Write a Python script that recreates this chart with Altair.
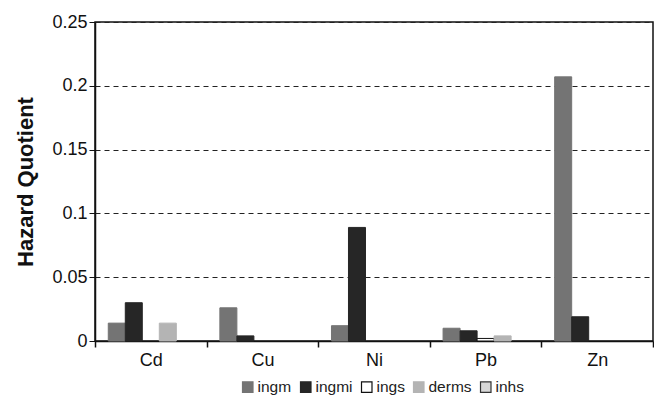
import altair as alt
import pandas as pd

metals = ["Cd", "Cu", "Ni", "Pb", "Zn"]
series = ["ingm", "ingmi", "ings", "derms", "inhs"]
ingm = [0.014, 0.026, 0.012, 0.010, 0.207]
ingmi = [0.030, 0.004, 0.089, 0.008, 0.019]
ings = [0.0, 0.0, 0.0, 0.002, 0.0]
derms = [0.014, 0.0, 0.0, 0.004, 0.0]
inhs = [0.0, 0.0, 0.0, 0.0, 0.0]

fills = ["#747474", "#262626", "#ffffff", "#b4b4b4", "#d8d8d8"]
strokes = ["#747474", "#262626", "#111111", "#b4b4b4", "#333333"]

rows = []
for s, vals in zip(series, [ingm, ingmi, ings, derms, inhs]):
    for m, v in zip(metals, vals):
        rows.append({"metal": m, "series": s, "value": v})
df = pd.DataFrame(rows)

font = "Liberation Sans"

chart = alt.Chart(df).transform_filter(
    alt.datum.value > 0
).mark_bar(strokeWidth=1).encode(
    x=alt.X("metal:N", sort=metals, title=None,
            scale=alt.Scale(domain=metals, paddingInner=0, paddingOuter=0),
            axis=alt.Axis(labelAngle=0, labelFontSize=18, labelColor="#111",
                          domainColor="#111", domainWidth=1.5, tickColor="#111",
                          tickWidth=1.5, tickSize=6, tickBand="extent",
                          labelPadding=4, labelFont=font)),
    xOffset=alt.XOffset("series:N", sort=series,
                        scale=alt.Scale(domain=series, paddingInner=0, paddingOuter=0.78)),
    y=alt.Y("value:Q", title="Hazard Quotient",
            scale=alt.Scale(domain=[0, 0.25]),
            axis=alt.Axis(values=[0, 0.05, 0.1, 0.15, 0.2, 0.25], format="~g",
                          labelFontSize=18, labelColor="#111", labelFont=font,
                          titleFontSize=22, titleFontWeight="bold", titleFont=font,
                          titleColor="#111", titlePadding=14,
                          domainColor="#111", domainWidth=1.5, tickColor="#111",
                          tickWidth=1, tickSize=6,
                          grid=True, gridColor="#222", gridDash=[5, 4], gridWidth=1.2)),
    fill=alt.Fill("series:N", sort=series, title=None,
                  scale=alt.Scale(domain=series, range=fills)),
    stroke=alt.Stroke("series:N", sort=series, title=None,
                      scale=alt.Scale(domain=series, range=strokes)),
).properties(
    width=558, height=319,
    padding={"left": 6, "right": 0, "top": 5, "bottom": 0},
).configure_view(
    stroke="#111", strokeWidth=1.5
).configure_legend(
    orient="none", legendX=145, legendY=357,
    direction="horizontal", symbolType="square",
    symbolSize=110, symbolStrokeWidth=1.2, labelFontSize=15.5, labelFont=font,
    labelColor="#222", columnPadding=6, labelOffset=2, padding=0
)

chart.save("out.html", embed_options={"renderer": "svg", "actions": False})
